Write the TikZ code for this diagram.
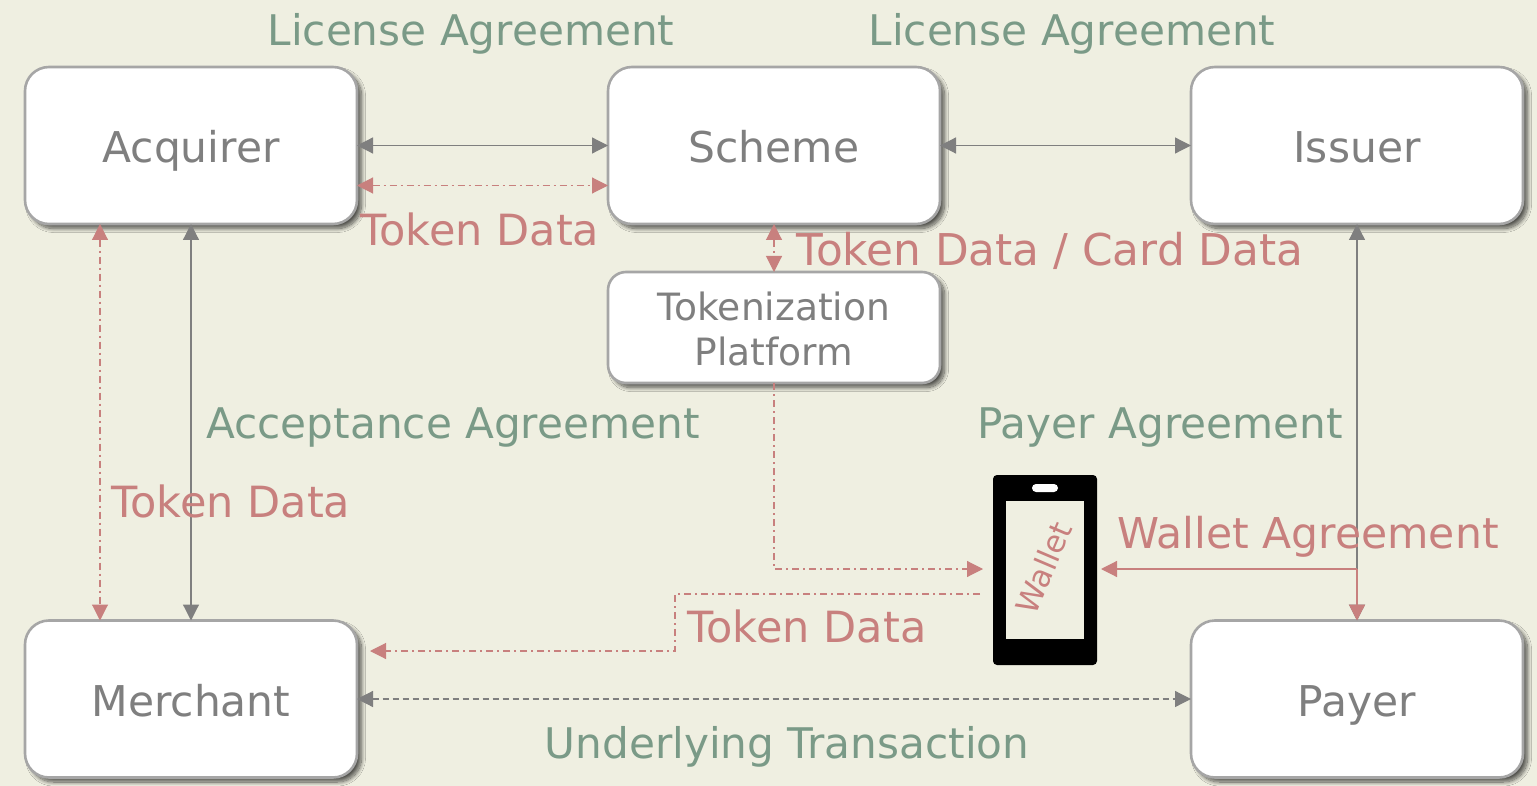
\documentclass[tikz,border=0pt]{standalone}
\usepackage{fontspec}
\setmainfont{DejaVu Sans}
\usetikzlibrary{arrows.meta, shadows.blur}

\definecolor{paper}{HTML}{EFEFE1}
\definecolor{agree}{HTML}{7A9A87}
\definecolor{tokenred}{HTML}{C8807E}
\definecolor{linegray}{HTML}{7F7F7F}
\definecolor{boxedge}{HTML}{A6A6A6}

\tikzset{
        head/.tip={Triangle[length=16pt, width=16pt]},
        party/.style={draw=boxedge, line width=2.6pt, fill=white, rounded corners=24pt, outer sep=0pt,
                minimum width=332pt, minimum height=157pt, text=linegray, text height=40pt, text depth=5pt,
                font=\fontsize{42.4}{50}\selectfont,
                blur shadow={shadow xshift=4.5pt, shadow yshift=-4.5pt, shadow blur steps=12, shadow blur radius=4pt, shadow opacity=65}},
        agreetext/.style={anchor=base, text=agree, font=\fontsize{42.2}{50}\selectfont},
        tokentext/.style={anchor=base, text=tokenred, font=\fontsize{43}{50}\selectfont},
        plainlink/.style={line width=1.2pt, draw=linegray, head-head},
        tokenlink/.style={line width=1.1pt, draw=tokenred, dash pattern=on 7pt off 4pt on 2pt off 4pt},
        walletlink/.style={line width=1.2pt, draw=tokenred, -head},
}

\begin{document}
\begin{tikzpicture}[x=1pt, y=-1pt]
        \useasboundingbox[fill=paper] (0,0) rectangle (1537,786);

        \node[party] (acquirer) at (191,145.5) {Acquirer};
        \node[party] (scheme) at (774,145.5) {Scheme};
        \node[party] (issuer) at (1357,145.5) {Issuer};
        \node[party] (merchant) at (191,699) {Merchant};
        \node[party] (payer) at (1357,699) {Payer};
        \node[party, minimum height=111pt, rounded corners=18pt, text height=80pt, text depth=3pt, align=center,
                font=\fontsize{37.6}{45}\selectfont] (platform) at (774,327.5) {Tokenization\\Platform};

        % the phone
        \node[fill=black, rounded corners=4pt, minimum width=104pt, minimum height=190pt, outer sep=0pt] (wallet) at (1045,570) {};
        \node[fill=paper, minimum width=78pt, minimum height=138pt, inner sep=0pt] (screen) at (1045,570) {};
        \node[fill=white, rounded corners=4pt, minimum width=26pt, minimum height=8pt, inner sep=0pt] (speaker) at (1045,488) {};
        \node[rotate=67, text=tokenred, font=\fontsize{31}{36}\selectfont] (walletname) at (1043.5,568) {Wallet};

        \draw[plainlink] (acquirer.east) -- (scheme.west);
        \draw[plainlink] (scheme.east) -- (issuer.west);
        \draw[plainlink] (acquirer.south) -- (merchant.north);
        \draw[plainlink] (issuer.south) -- (payer.north);
        \draw[plainlink, dash pattern=on 6pt off 4pt] (merchant.east) -- (payer.west);

        \draw[tokenlink, head-head] ([yshift=-40pt]acquirer.east) -- ([yshift=-40pt]scheme.west);
        \draw[tokenlink, head-head] ([xshift=-91pt]acquirer.south) -- ([xshift=-91pt]merchant.north);
        \draw[tokenlink, head-head] (scheme.south) -- (platform.north);
        \draw[tokenlink, -head] (platform.south) |- ([shift={(-10pt,1pt)}]wallet.west);
        \draw[tokenlink, -head] ([shift={(-13pt,-24pt)}]wallet.west) -- (675,594) -- (675,651)
                -- ([shift={(13pt,48pt)}]merchant.east);

        \coordinate (junction) at ([yshift=1pt]issuer.south |- wallet.east);
        \draw[walletlink] (junction) -- ([shift={(4pt,1pt)}]wallet.east);
        \draw[walletlink] (junction) -- (payer.north);

        \node[agreetext] (licenseleft) at (471,46) {License Agreement};
        \node[agreetext] (licenseright) at (1072,46) {License Agreement};
        \node[agreetext] (acceptance) at (453,438) {Acceptance Agreement};
        \node[agreetext] (payeragreement) at (1160,438) {Payer Agreement};
        \node[agreetext] (underlying) at (787,758) {Underlying Transaction};
        \node[tokentext] (tokentop) at (480,246) {Token Data};
        \node[tokentext, font=\fontsize{43.8}{50}\selectfont] (tokencard) at (1050,266) {Token Data / Card Data};
        \node[tokentext] (tokenleft) at (231,517) {Token Data};
        \node[tokentext, font=\fontsize{42.5}{50}\selectfont] (walletagreement) at (1308,548) {Wallet Agreement};
        \node[tokentext] (tokenbottom) at (807,642) {Token Data};
\end{tikzpicture}
\end{document}
